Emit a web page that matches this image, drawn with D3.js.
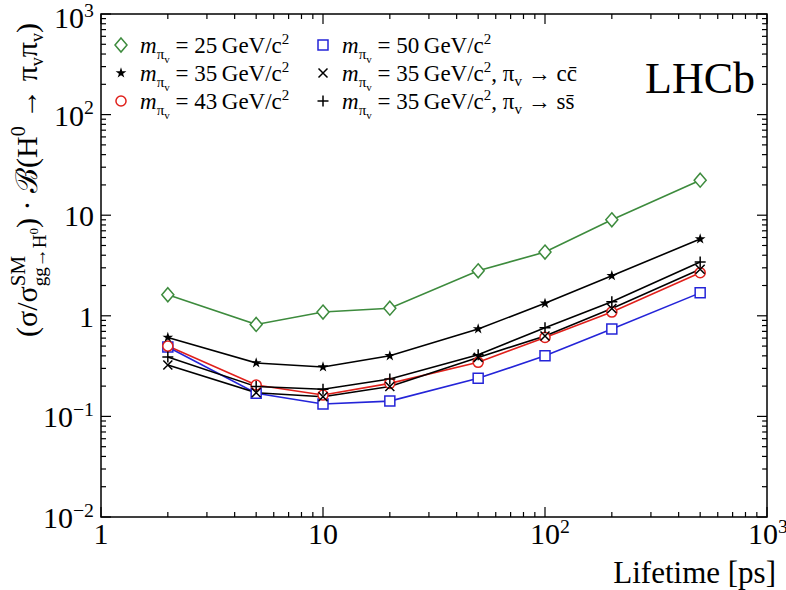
<!DOCTYPE html>
<html>
<head>
<meta charset="utf-8">
<script src="https://cdn.jsdelivr.net/npm/d3@7"></script>
<style>
  body { margin: 0; background: #fff; }
  svg text { font-family: "Liberation Serif", "DejaVu Serif", serif; fill: #000; }
</style>
</head>
<body>
<div id="plot"></div>
<script>
// lifetimes (ps) and limits for each hypothesis
const lifetimes = [2, 5, 10, 20, 50, 100, 200, 500];
const m25 = [1.62, 0.82, 1.09, 1.19, 2.8, 4.3, 9.0, 22.3];
const m35 = [0.61, 0.34, 0.31, 0.40, 0.74, 1.33, 2.5, 5.8];
const m43 = [0.50, 0.205, 0.163, 0.213, 0.345, 0.61, 1.09, 2.68];
const m50 = [0.49, 0.17, 0.133, 0.142, 0.239, 0.40, 0.74, 1.69];
const m35cc = [0.324, 0.172, 0.157, 0.198, 0.386, 0.63, 1.18, 2.9];
const m35ss = [0.39, 0.198, 0.186, 0.235, 0.41, 0.76, 1.38, 3.43];

const xTicks = [1, 10, 100, 1000];
const yTicks = [0.01, 0.1, 1, 10, 100, 1000];

const series = [
    { name: "25", vals: m25, color: "#3d8b3d", marker: "diamond", decay: null },
    { name: "35", vals: m35, color: "#000", marker: "star", decay: null },
    { name: "43", vals: m43, color: "#e0201b", marker: "circle", decay: null },
    { name: "50", vals: m50, color: "#2424d8", marker: "square", decay: null },
    { name: "35", vals: m35cc, color: "#000", marker: "cross", decay: "c" },
    { name: "35", vals: m35ss, color: "#000", marker: "plus", decay: "s" }
];

const W = 786, H = 590;
const margin = { left: 101, top: 14, right: 19, bottom: 73 };
const w = W - margin.left - margin.right;
const h = H - margin.top - margin.bottom;

const svg = d3.select("#plot").append("svg")
    .attr("width", W)
    .attr("height", H);

const x = d3.scaleLog().domain([1, 1000]).range([margin.left, margin.left + w]);
const y = d3.scaleLog().domain([0.01, 1000]).range([margin.top + h, margin.top]);

//Minor ticks for each decade
const minors = (lo, hi) => {
    const out = [];
    for (let d = lo; d < hi; d *= 10)
        for (let k = 2; k <= 9; k++) out.push(d * k);
    return out;
};

const axes = svg.append("g").attr("stroke", "#000").attr("stroke-width", 1.2);
const major = 10, minor = 5;
const x0 = margin.left, x1 = margin.left + w, y0 = margin.top + h, y1 = margin.top;

xTicks.forEach(t => {
    axes.append("line").attr("x1", x(t)).attr("x2", x(t)).attr("y1", y0).attr("y2", y0 - major);
    axes.append("line").attr("x1", x(t)).attr("x2", x(t)).attr("y1", y1).attr("y2", y1 + major);
});
minors(1, 1000).forEach(t => {
    axes.append("line").attr("x1", x(t)).attr("x2", x(t)).attr("y1", y0).attr("y2", y0 - minor);
    axes.append("line").attr("x1", x(t)).attr("x2", x(t)).attr("y1", y1).attr("y2", y1 + minor);
});
yTicks.forEach(t => {
    axes.append("line").attr("y1", y(t)).attr("y2", y(t)).attr("x1", x0).attr("x2", x0 + major);
    axes.append("line").attr("y1", y(t)).attr("y2", y(t)).attr("x1", x1).attr("x2", x1 - major);
});
minors(0.01, 1000).forEach(t => {
    axes.append("line").attr("y1", y(t)).attr("y2", y(t)).attr("x1", x0).attr("x2", x0 + minor);
    axes.append("line").attr("y1", y(t)).attr("y2", y(t)).attr("x1", x1).attr("x2", x1 - minor);
});
svg.append("rect")
    .attr("x", x0).attr("y", y1).attr("width", w).attr("height", h)
    .attr("fill", "none").attr("stroke", "#000").attr("stroke-width", 1.5);

//Power-of-ten label: "1", "10" or "10^n"
const powLabel = (sel, v, size) => {
    const e = Math.round(Math.log10(v));
    if (e === 0) { sel.text("1"); return; }
    if (e === 1) { sel.text("10"); return; }
    sel.append("tspan").text("10");
    sel.append("tspan").attr("dy", -size * 0.38).style("font-size", (size * 0.66) + "px")
        .text(e < 0 ? "\u2212" + (-e) : e);
};

const fs = 30;
xTicks.forEach(t => {
    const e = Math.round(Math.log10(t));
    const txt = svg.append("text")
        .attr("x", e >= 2 ? x(t) - fs * 0.5 - (e === 3 ? 4 : 0) : x(t)).attr("y", 544)
        .attr("text-anchor", e >= 2 ? "start" : "middle")
        .style("font-size", fs + "px");
    powLabel(txt, t, fs);
});
yTicks.forEach(t => {
    const txt = svg.append("text")
        .attr("x", 94).attr("y", y(t) + (t === 1000 ? 14 : 11))
        .attr("text-anchor", "end")
        .style("font-size", fs + "px");
    powLabel(txt, t, fs);
});

svg.append("text")
    .attr("x", 776).attr("y", 583)
    .attr("text-anchor", "end")
    .style("font-size", "31px")
    .text("Lifetime [ps]");

//Y-axis title with stacked sub/superscripts
const yt = svg.append("text")
    .attr("transform", "translate(37," + (y1 + 9) + ") rotate(-90)")
    .attr("text-anchor", "end")
    .style("font-size", "30px");
const seg = (t, dy, size) => yt.append("tspan").text(t).attr("dy", dy).style("font-size", size + "px");
seg("(\u03c3/\u03c3", 0, 30);
const sup = seg("SM", -12, 21);
const sub = seg("gg\u2192H", 21, 19);
sub.attr("dx", -sup.node().getComputedTextLength());
seg("0", -8, 13);
seg(")", -1, 30);
// baseline back: -12 + 21 - 8 - 1 = 0
seg(" \u00b7 \u212c(H", 0, 30);
seg("0", -12, 20);
seg(" \u2192 \u03c0", 12, 30);
seg("v", 6, 18);
seg("\u03c0", -6, 30);
seg("v", 6, 18);
seg(")", -6, 30);

//Markers
const markerPath = (type) => {
    switch (type) {
        case "diamond": return "M0,-7L6,0L0,7L-6,0Z";
        case "square": return "M-5,-5H5V5H-5Z";
        case "cross": return "M-4.5,-4.5L4.5,4.5M-4.5,4.5L4.5,-4.5";
        case "plus": return "M-5.5,0H5.5M0,-5.5V5.5";
        case "star": return d3.symbol(d3.symbolStar, 36)();
        default: return d3.symbol(d3.symbolCircle, 80)();
    }
};
const drawMarker = (g, type, color) => {
    const p = g.append("path").attr("d", markerPath(type));
    if (type === "star") p.attr("fill", color).attr("stroke", "none");
    else p.attr("fill", type === "cross" || type === "plus" ? "none" : "#fff")
        .attr("stroke", color).attr("stroke-width", 1.5);
};

const line = d3.line().x(d => x(d[0])).y(d => y(d[1]));
const drawOrder = [0, 3, 2, 4, 5, 1];
drawOrder.forEach(i => {
    const s = series[i];
    const pts = lifetimes.map((t, j) => [t, s.vals[j]]);
    svg.append("path").datum(pts)
        .attr("d", line)
        .attr("fill", "none")
        .attr("stroke", s.color)
        .attr("stroke-width", 1.6);
});
drawOrder.forEach(i => {
    const s = series[i];
    lifetimes.forEach((t, j) => {
        const g = svg.append("g").attr("transform", `translate(${x(t)},${y(s.vals[j])})`);
        drawMarker(g, s.marker, s.color);
    });
});

//Legend
const legPos = [[121, 45], [121, 73], [121, 101], [323, 45], [323, 73], [323, 101]];
series.forEach((s, i) => {
    const [lx, ly] = legPos[i];
    const g = svg.append("g").attr("transform", `translate(${lx},${ly})`);
    drawMarker(g, s.marker, s.color);
    const t = svg.append("text").attr("x", lx + 19).attr("y", ly + 8).style("font-size", "23px");
    t.append("tspan").text("m").style("font-style", "italic");
    t.append("tspan").text("\u03c0").attr("dy", 6).style("font-size", "15px");
    t.append("tspan").text("v").attr("dy", 4).style("font-size", "11px");
    t.append("tspan").text(" = " + s.name + "\u2009GeV/c").attr("dy", -10);
    t.append("tspan").text("2").attr("dy", -9).style("font-size", "15px");
    if (s.decay) {
        t.append("tspan").text(", \u03c0").attr("dy", 9);
        t.append("tspan").text("v").attr("dy", 5).style("font-size", "15px");
        t.append("tspan").text(" \u2192 " + s.decay + s.decay + "\u0304").attr("dy", -5);
    }
});

svg.append("text")
    .attr("x", 755).attr("y", 93)
    .attr("text-anchor", "end")
    .style("font-size", "44px")
    .text("LHCb");
</script>
</body>
</html>
